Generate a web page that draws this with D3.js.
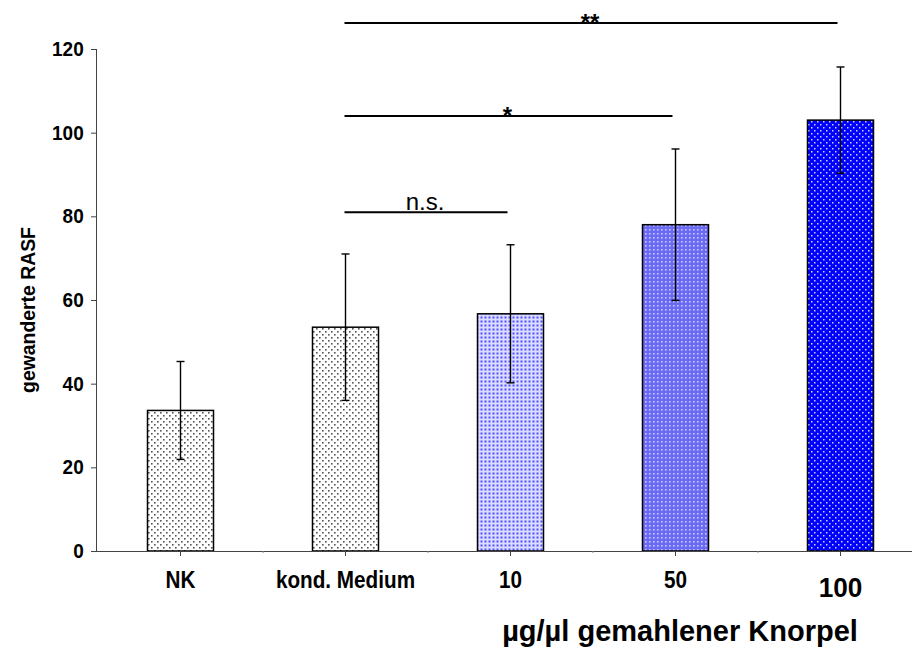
<!DOCTYPE html>
<html>
<head>
<meta charset="utf-8">
<script src="https://cdn.jsdelivr.net/npm/d3@7"></script>
<style>
  body { margin: 0; background: #fff; }
  text { font-family: "Liberation Sans", Arial, sans-serif; }
</style>
</head>
<body>
<script>
var categories = ["NK", "kond. Medium", "10", "50", "100"];
var means = [33.6, 53.5, 56.7, 78.0, 103.0];
var errors = [11.7, 17.5, 16.5, 18.1, 12.7];
var yTicks = [0, 20, 40, 60, 80, 100, 120];
var sigFrom = [1, 1, 1];
var sigTo = [2, 3, 4];
var sigLevel = [81, 104, 126.2];
var sigLabel = ["n.s.", "*", "**"];
var yTitle = "gewanderte RASF";
var xTitle = "µg/µl gemahlener Knorpel";

var width = 912, height = 648;

var svg = d3.select("body").append("svg")
    .attr("width", width)
    .attr("height", height);

var x = d3.scaleBand()
    .domain(categories)
    .range([98, 923])
    .paddingInner(0.6)
    .paddingOuter(0.3);

var y = d3.scaleLinear()
    .domain([0, 120])
    .range([551, 49]);

// fill patterns
var defs = svg.append("defs");

var p0 = defs.append("pattern").attr("id", "pGray")
    .attr("patternUnits", "userSpaceOnUse").attr("width", 6).attr("height", 6);
p0.append("rect").attr("width", 6).attr("height", 6).attr("fill", "#fff");
p0.append("rect").attr("x", 1).attr("y", 1).attr("width", 1.6).attr("height", 1.6).attr("fill", "#555");
p0.append("rect").attr("x", 4).attr("y", 4).attr("width", 1.6).attr("height", 1.6).attr("fill", "#555");

var p1 = defs.append("pattern").attr("id", "pLight")
    .attr("patternUnits", "userSpaceOnUse").attr("width", 4).attr("height", 4);
p1.append("rect").attr("width", 4).attr("height", 4).attr("fill", "#dcdcff");
p1.append("rect").attr("x", 0.5).attr("y", 0.5).attr("width", 2).attr("height", 2).attr("fill", "#5050ff");

var p2 = defs.append("pattern").attr("id", "pMid")
    .attr("patternUnits", "userSpaceOnUse").attr("width", 4).attr("height", 4);
p2.append("rect").attr("width", 4).attr("height", 4).attr("fill", "#6a6af4");
p2.append("rect").attr("x", 1).attr("y", 1).attr("width", 1.6).attr("height", 1.6).attr("fill", "#c8c8ff");

var p3 = defs.append("pattern").attr("id", "pDark")
    .attr("patternUnits", "userSpaceOnUse").attr("width", 6).attr("height", 6);
p3.append("rect").attr("width", 6).attr("height", 6).attr("fill", "#0000ff");
p3.append("rect").attr("x", 1).attr("y", 1).attr("width", 1.5).attr("height", 1.5).attr("fill", "#d0d0ff");
p3.append("rect").attr("x", 4).attr("y", 4).attr("width", 1.5).attr("height", 1.5).attr("fill", "#d0d0ff");

var fills = ["url(#pGray)", "url(#pGray)", "url(#pLight)", "url(#pMid)", "url(#pDark)"];

// bars
svg.selectAll("rect.bar")
    .data(categories)
    .enter().append("rect")
    .attr("class", "bar")
    .attr("x", function (d) { return x(d); })
    .attr("y", function (d, i) { return y(means[i]); })
    .attr("width", x.bandwidth())
    .attr("height", function (d, i) { return y(0) - y(means[i]); })
    .attr("fill", function (d, i) { return fills[i]; })
    .attr("stroke", "#000")
    .attr("stroke-width", 1.5);

// error bars
var eb = svg.selectAll("g.err")
    .data(categories)
    .enter().append("g")
    .attr("class", "err")
    .attr("stroke", "#000")
    .attr("stroke-width", 1.4);

eb.append("line")
    .attr("x1", function (d) { return x(d) + x.bandwidth() / 2; })
    .attr("x2", function (d) { return x(d) + x.bandwidth() / 2; })
    .attr("y1", function (d, i) { return y(means[i] - errors[i]); })
    .attr("y2", function (d, i) { return y(means[i] + errors[i]); });
[-1, 1].forEach(function (s) {
    eb.append("line")
        .attr("x1", function (d) { return x(d) + x.bandwidth() / 2 - 4; })
        .attr("x2", function (d) { return x(d) + x.bandwidth() / 2 + 4; })
        .attr("y1", function (d, i) { return y(means[i] + s * errors[i]); })
        .attr("y2", function (d, i) { return y(means[i] + s * errors[i]); });
});

// axes
var yAxis = svg.append("g")
    .attr("transform", "translate(97,0)")
    .call(d3.axisLeft(y).tickValues(yTicks).tickSize(6).tickPadding(8));
yAxis.select(".domain").attr("stroke", "#444").attr("d", "M-0.5," + y(120) + "V" + y(0));
yAxis.selectAll(".tick line").attr("stroke", "#444");
yAxis.selectAll(".tick text")
    .attr("font-family", "Liberation Sans, Arial, sans-serif")
    .attr("font-size", 20).attr("font-weight", "bold").attr("fill", "#000")
    .attr("transform", "scale(0.95,1)");

var xAxis = svg.append("g")
    .attr("transform", "translate(0,551)")
    .call(d3.axisBottom(x).tickSize(5).tickPadding(16));
xAxis.select(".domain").attr("stroke", "#444").attr("d", "M96.5,0.5H912");
xAxis.selectAll(".tick line").attr("stroke", "#444");
xAxis.selectAll(".tick text")
    .attr("font-family", "Liberation Sans, Arial, sans-serif")
    .attr("font-size", function (d) { return d === "100" ? 27 : 23; })
    .attr("dy", function (d) { return d === "100" ? "0.93em" : "0.71em"; })
    .attr("transform", function (d) { return d === "100" ? "scale(0.97,1)" : "scale(0.9,1)"; })
    .attr("font-weight", "bold").attr("fill", "#000");

// small marks between groups
xAxis.selectAll("line.minor")
    .data(categories.slice(1))
    .enter().append("line")
    .attr("class", "minor")
    .attr("x1", function (d) { return x(d) - x.step() * x.paddingInner() / 2; })
    .attr("x2", function (d) { return x(d) - x.step() * x.paddingInner() / 2; })
    .attr("y1", 0).attr("y2", 2)
    .attr("stroke", "#888");

// axis titles
svg.append("text")
    .attr("transform", "translate(35," + ((y(0) + y(120)) / 2 + 10) + ") rotate(-90) scale(0.97,1)")
    .attr("text-anchor", "middle")
    .attr("font-size", 20).attr("font-weight", "bold")
    .text(yTitle);

svg.append("text")
    .attr("x", 680).attr("y", 641)
    .attr("text-anchor", "middle")
    .attr("font-size", 29).attr("font-weight", "bold")
    .text(xTitle);

// significance lines
var cx = function (i) { return x(categories[i]) + x.bandwidth() / 2; };
var sig = svg.selectAll("g.sig")
    .data(sigLevel)
    .enter().append("g")
    .attr("class", "sig");
sig.append("line")
    .attr("x1", function (d, i) { return cx(sigFrom[i]) - 1; })
    .attr("x2", function (d, i) { return cx(sigTo[i]) - 3; })
    .attr("y1", function (d) { return y(d); })
    .attr("y2", function (d) { return y(d); })
    .attr("stroke", "#000").attr("stroke-width", 2);
sig.append("text")
    .attr("x", function (d, i) { return (cx(sigFrom[i]) + cx(sigTo[i])) / 2 - 3; })
    .attr("y", function (d, i) { return y(d) + (sigLabel[i] === "n.s." ? -2 : 8); })
    .attr("text-anchor", "middle")
    .attr("font-size", 24)
    .attr("font-weight", function (d, i) { return sigLabel[i] === "n.s." ? "normal" : "bold"; })
    .attr("fill", "#000")
    .text(function (d, i) { return sigLabel[i]; });
</script>
</body>
</html>
